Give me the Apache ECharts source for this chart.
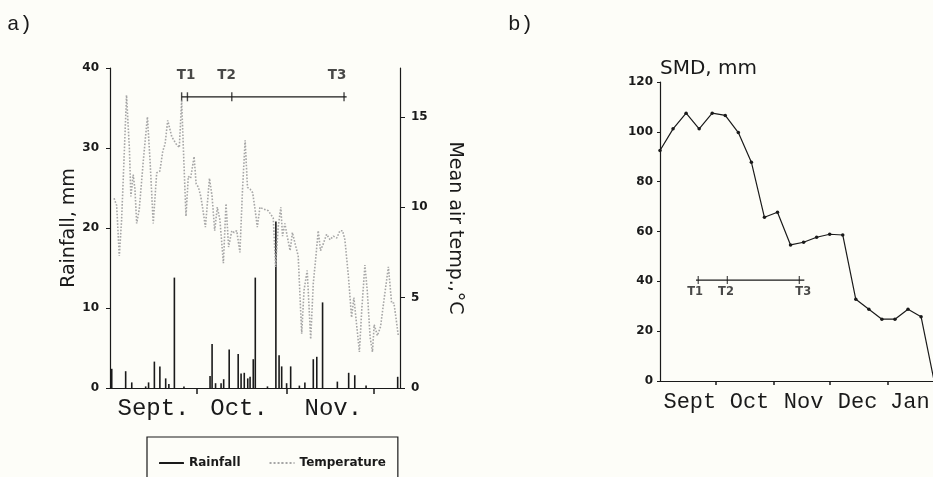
<!DOCTYPE html>
<html>
<head>
<meta charset="utf-8">
<script src="https://cdn.jsdelivr.net/npm/echarts@6/dist/echarts.min.js"></script>
<style>
html,body{margin:0;padding:0;background:#fdfdf8;}
#chart{width:933px;height:477px;}
</style>
</head>
<body>
<div id="chart"></div>
<script>
// ---------- Panel a) ----------
// days since 1 September
const rainDays = [0.6,5.4,7.5,12.3,13.3,15.3,17.2,19.2,20.3,22.2,25.5,34.5,35.2,36.4,38.3,39.2,41.1,44.2,45.2,46.3,47.5,48.3,49.4,50.1,54.3,57.2,58.3,59.2,60.9,62.3,65.3,67.2,70.1,71.3,73.3,78.4,82.3,84.4,88.3,99.2];
const rainMm   = [2.4,2.1,0.7,0.2,0.7,3.3,2.7,1.2,0.5,13.8,0.2,1.5,5.5,0.6,0.6,1.1,4.8,4.25,1.8,1.9,1.2,1.4,3.6,13.8,0.2,20.8,4.1,2.7,0.6,2.7,0.3,0.7,3.6,3.9,10.7,0.8,1.9,1.6,0.3,1.4];

const tempDays = [1.4,2.3,3.2,4.0,4.6,5.7,6.7,7.2,8.0,8.6,9.2,10.1,11.5,12.9,13.8,14.9,16.1,17.2,18.2,19.0,19.9,21.3,22.8,23.9,24.7,25.5,26.2,27.0,27.8,29.0,29.7,30.5,31.3,32.0,32.9,34.3,35.2,36.1,37.0,37.9,39.1,40.0,40.9,42.0,42.8,43.7,44.8,45.7,46.6,47.4,48.3,49.2,50.0,50.8,51.7,52.9,54.6,56.3,57.1,58.0,58.9,59.5,60.3,61.1,62.1,62.9,63.8,64.9,66.1,66.9,68.0,69.2,70.1,70.9,71.8,72.6,73.6,74.7,75.9,77.0,78.2,79.3,80.2,81.0,82.2,83.3,84.1,85.1,86.0,86.8,87.9,88.7,89.7,90.5,91.1,92.2,93.3,94.5,96.0,97.1,97.9,98.6,99.4];
const tempC    = [10.5,10.1,7.3,9.3,11.7,16.2,13.2,10.6,11.8,11.0,9.1,9.9,12.6,15.0,12.6,9.1,11.9,12.0,13.1,13.5,14.8,13.9,13.5,13.3,15.9,12.4,9.5,11.7,11.6,12.8,11.3,11.1,10.6,9.9,8.9,11.6,10.6,8.7,10.0,9.3,6.9,10.2,7.8,8.7,8.6,8.7,7.5,11.0,13.7,11.1,11.0,10.8,9.9,8.9,10.0,9.9,9.8,9.4,6.7,8.9,10.0,8.4,9.1,8.4,7.6,8.6,8.0,7.3,3.0,5.4,6.5,2.7,5.8,7.1,8.7,7.6,8.0,8.5,8.2,8.4,8.3,8.7,8.7,8.2,6.2,3.9,5.0,3.4,2.0,4.3,6.8,5.4,2.8,2.0,3.5,2.9,3.4,4.9,6.7,4.7,4.7,3.9,2.9];

const monthNamesA     = ['Sept.','Oct.','Nov.'];
const monthLabelDaysA = [15,44.5,77];
const monthTickDaysA  = [30,61,91];
const rainTicks = [0,10,20,30,40];
const tempTicks = [0,5,10,15];

const tNames      = ['T1','T2','T3'];
const tSpanA      = [24.7,81.6];
const tTickDaysA  = [24.7,26.7,42,80.7];
const tLabelDaysA = [26.2,40.2,78.3];
const tLevelA = 36.4;      // in rainfall-axis units
const tLabelLevelA = 39.1;

// ---------- Panel b) ----------
const smdDays = [0,7,14,21,28,35,42,49,56,63,70,77,84,91,98,105,112,119,126,133,140,147];
const smdMm   = [92.5,101.2,107.5,101.2,107.5,106.6,99.7,87.8,65.7,67.7,54.6,55.7,57.7,58.9,58.6,32.8,28.8,24.8,24.8,28.8,25.8,0];
const monthNamesB     = ['Sept','Oct','Nov','Dec','Jan'];
const monthLabelDaysB = [16,48,77,106,134];
const monthTickDaysB  = [30,61,91,122];
const smdTicks = [0,20,40,60,80,100,120];

const tSpanB      = [19.3,77.4];
const tTickDaysB  = [20.5,36.1,74.7];
const tLabelDaysB = [18.8,35.4,76.8];
const tLevelB = 40.5;
const tLabelLevelB = 35.9;

// ---------- chart ----------
const ink = '#1a1a1a';
const sans = 'DejaVu Sans';
const mono = 'Liberation Mono';
const zip = (a,b) => a.map((v,i)=>[v,b[i]]);
const pick = (vals, names) => v => { const i = vals.findIndex(x=>Math.abs(x-v)<1e-6); return i<0?'':names[i]; };

const chart = echarts.init(document.getElementById('chart'), null, {renderer:'canvas'});
const option = {
  backgroundColor:'#fdfdf8',
  animation:false,
  title:[
    {text:'a)', left:7, top:14, padding:0, textStyle:{fontFamily:mono,fontSize:21,fontWeight:'normal',color:ink}},
    {text:'b)', left:508, top:14, padding:0, textStyle:{fontFamily:mono,fontSize:21,fontWeight:'normal',color:ink}}
  ],
  legend:{
    data:['Rainfall','Temperature'],
    left:147, top:437,
    padding:[20,12,30,12],
    itemGap:28, itemWidth:25, itemHeight:2,
    borderColor:ink, borderWidth:1.2,
    textStyle:{fontFamily:sans,fontSize:12,fontWeight:'bold',color:ink},
    selectedMode:false
  },
  grid:[
    {left:110, top:68, width:290, height:320},
    {left:660, top:82, right:0, height:299}
  ],
  xAxis:[
    {type:'value', gridIndex:0, min:0, max:100,
     axisLine:{show:true,onZero:false,lineStyle:{color:ink,width:1.2}},
     axisTick:{show:true,length:6,customValues:monthTickDaysA,lineStyle:{color:ink,width:1.5}},
     axisLabel:{customValues:monthLabelDaysA,formatter:pick(monthLabelDaysA,monthNamesA),margin:9,fontFamily:mono,fontSize:24,color:ink},
     splitLine:{show:false}},
    {type:'value', gridIndex:1, min:0, max:146.4,
     axisLine:{show:true,onZero:false,lineStyle:{color:ink,width:1.2}},
     axisTick:{show:true,length:4,customValues:monthTickDaysB,lineStyle:{color:ink,width:1.5}},
     axisLabel:{customValues:monthLabelDaysB,formatter:pick(monthLabelDaysB,monthNamesB),margin:10,fontFamily:mono,fontSize:22,color:ink},
     splitLine:{show:false}}
  ],
  yAxis:[
    {type:'value', gridIndex:0, position:'left', min:0, max:40,
     axisLine:{show:true,onZero:false,lineStyle:{color:ink,width:1.2}},
     axisTick:{show:true,length:4,customValues:rainTicks,lineStyle:{color:ink}},
     axisLabel:{customValues:rainTicks,margin:11,fontFamily:sans,fontSize:12,fontWeight:'bold',color:ink},
     splitLine:{show:false},
     name:'Rainfall, mm', nameLocation:'middle', nameGap:31,
     nameTextStyle:{fontFamily:sans,fontSize:19,color:ink}},
    {type:'value', gridIndex:0, position:'right', min:0, max:17.7,
     axisLine:{show:true,onZero:false,lineStyle:{color:ink,width:1.2}},
     axisTick:{show:true,length:5,customValues:tempTicks,lineStyle:{color:ink}},
     axisLabel:{customValues:tempTicks,margin:11,fontFamily:sans,fontSize:12,fontWeight:'bold',color:ink},
     splitLine:{show:false},
     name:'Mean air temp.,\u00B0C', nameLocation:'middle', nameGap:45, nameRotate:-90,
     nameTextStyle:{fontFamily:sans,fontSize:19,color:ink}},
    {type:'value', gridIndex:1, position:'left', min:0, max:120, interval:20,
     axisLine:{show:true,onZero:false,lineStyle:{color:ink,width:1.2}},
     axisTick:{show:true,length:3,lineStyle:{color:ink}},
     axisLabel:{margin:7,fontFamily:sans,fontSize:12,fontWeight:'bold',color:ink},
     splitLine:{show:false},
     name:'SMD, mm', nameLocation:'end', nameGap:3,
     nameTextStyle:{fontFamily:sans,fontSize:20,color:ink,align:'left',verticalAlign:'bottom'}}
  ],
  series:[
    {name:'Rainfall', type:'bar', xAxisIndex:0, yAxisIndex:0, barWidth:1.6,
     itemStyle:{color:ink}, data:zip(rainDays,rainMm)},
    {name:'Temperature', type:'line', xAxisIndex:0, yAxisIndex:1, symbol:'none',
     lineStyle:{type:'dotted',width:1.6,color:'#a6a6a6'}, itemStyle:{color:'#a6a6a6'},
     data:zip(tempDays,tempC)},
    {type:'line', xAxisIndex:0, yAxisIndex:0, symbol:'none', silent:true,
     lineStyle:{color:ink,width:1.2}, data:tSpanA.map(d=>[d,tLevelA])},
    {type:'scatter', xAxisIndex:0, yAxisIndex:0, symbol:'rect', symbolSize:[1.4,9], silent:true,
     itemStyle:{color:ink}, data:tTickDaysA.map(d=>[d,tLevelA])},
    {type:'scatter', xAxisIndex:0, yAxisIndex:0, symbolSize:0, silent:true,
     label:{show:true,position:'inside',formatter:p=>tNames[p.dataIndex],fontFamily:sans,fontSize:13.5,fontWeight:'bold',color:ink},
     data:tLabelDaysA.map(d=>[d,tLabelLevelA])},
    {name:'SMD', type:'line', xAxisIndex:1, yAxisIndex:2, symbol:'circle', symbolSize:3.5,
     lineStyle:{color:ink,width:1.2}, itemStyle:{color:ink}, data:zip(smdDays,smdMm)},
    {type:'line', xAxisIndex:1, yAxisIndex:2, symbol:'none', silent:true,
     lineStyle:{color:ink,width:1.1}, data:tSpanB.map(d=>[d,tLevelB])},
    {type:'scatter', xAxisIndex:1, yAxisIndex:2, symbol:'rect', symbolSize:[1.2,8], silent:true,
     itemStyle:{color:ink}, data:tTickDaysB.map(d=>[d,tLevelB])},
    {type:'scatter', xAxisIndex:1, yAxisIndex:2, symbolSize:0, silent:true,
     label:{show:true,position:'inside',formatter:p=>tNames[p.dataIndex],fontFamily:sans,fontSize:11.5,fontWeight:'bold',color:ink},
     data:tLabelDaysB.map(d=>[d,tLabelLevelB])}
  ]
};
chart.setOption(option);
</script>
</body>
</html>
